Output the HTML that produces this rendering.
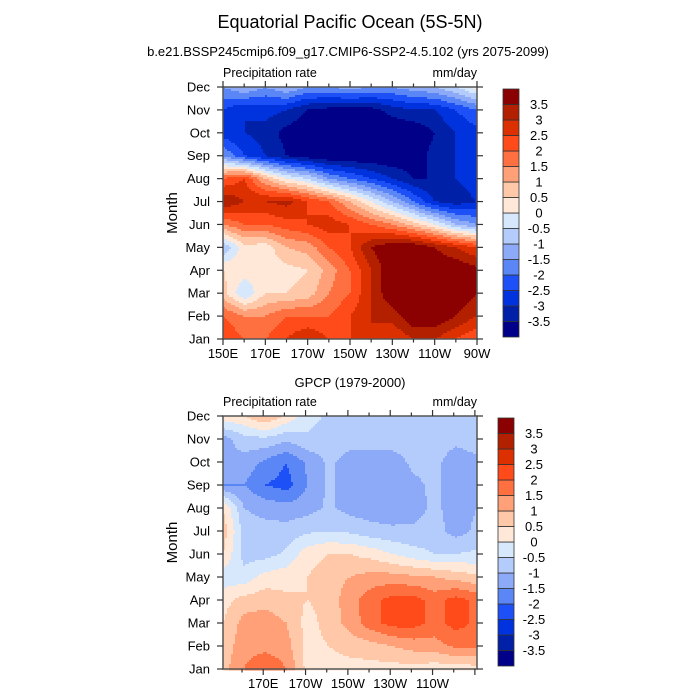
<!DOCTYPE html>
<html><head><meta charset="utf-8">
<style>
body{margin:0;background:#fff;}
svg{display:block;font-family:"Liberation Sans",sans-serif;}
</style></head>
<body>
<svg id="chart" width="700" height="700" viewBox="0 0 700 700">
<rect width="700" height="700" fill="#fff"/>
<text x="350" y="28" font-size="18" text-anchor="middle">Equatorial Pacific Ocean (5S-5N)</text>
<text x="348" y="56" font-size="13" text-anchor="middle">b.e21.BSSP245cmip6.f09_g17.CMIP6-SSP2-4.5.102 (yrs 2075-2099)</text>
<text x="350" y="387" font-size="13" text-anchor="middle">GPCP (1979-2000)</text>
<g id="top"></g>
<g id="bot"></g>
</svg>
<script>
const months = ["Jan","Feb","Mar","Apr","May","Jun","Jul","Aug","Sep","Oct","Nov","Dec"];
const lonsTop = [150,160,170,180,190,200,210,220,230,240,250,260,270];
const lonsBot = [151,161,171,181,191,201,211,221,231,241,251,261,271];
const xTicksTop = [150,170,190,210,230,250,270];
const xLabelsTop = ["150E","170E","170W","150W","130W","110W","90W"];
const xTicksBot = [170,190,210,230,250];
const xLabelsBot = ["170E","170W","150W","130W","110W"];
const levels = [-3.5,-3,-2.5,-2,-1.5,-1,-0.5,0,0.5,1,1.5,2,2.5,3,3.5];
const colors = ["#000088","#0020a8","#0033dd","#1e50f8","#5a87f5","#8caaf8","#b4ccfc","#d8e8fc","#ffe8d8","#ffc8a8","#ffa078","#ff7040","#ff4a1a","#dd3000","#b32000","#8b0000"];
const modelData = [
[2.5,2,2,2.5,3,2.5,2.5,3,2.5,3,3,2.5,2],
[2,1.5,1.5,2,2,2,2.5,3,3.2,4,4,3.5,3],
[0.7,-0.5,0.5,0.5,0.7,1.5,2,3,4,4,4,4,3.5],
[0.5,0.3,0.2,0.3,0.5,1.2,2,3,4,4,4,4,3.7],
[-1,0.3,0.2,1,1.2,2,2.5,3.5,4,4,3.5,3,2.5],
[1.5,2,2,2.3,2.5,2.8,2.5,2,1.5,0.8,0,-1,-1.5],
[3.5,3,3,3.2,2.5,2,1,0,-1,-2,-3,-3.3,-3],
[2,2.5,1,0,-0.5,-1.5,-2,-2.5,-3,-3.5,-3.5,-3,-2.7],
[-1.5,-2.5,-3,-3.5,-3.8,-4,-4,-4,-4,-3.8,-3.3,-3,-2.7],
[-2.8,-3,-3.2,-3.7,-4,-4,-4,-4,-4,-4,-3.5,-3,-2.7],
[-2.5,-3,-2.8,-3,-3.5,-3.7,-3.7,-3.7,-3.3,-3,-3,-2.5,-2],
[-1.5,-1,-1.5,-1,-1.5,-1.5,-1.3,-1.5,-1.5,-1.2,-1,-0.5,0.2]];
const obsData = [
[0.8,1.5,2,1.5,0.3,0.3,0.3,0.3,0.3,0.3,0.2,0.2,0.3],
[0.7,1.3,1.3,1.2,0.3,0.5,0.7,0.8,1,1.2,1.3,1.6,1.6],
[0.5,1.2,1.3,1,0.3,0.7,1.2,1.8,2.2,2.2,1.8,2.2,1.9],
[0.3,0.7,0.8,0.6,0.5,0.7,1.3,1.8,2.2,2.2,1.8,2.2,1.9],
[-0.3,-0.3,0.2,0.3,0.5,0.8,1,1.2,1.2,1.1,1,0.8,0.6],
[0.5,-0.7,-0.7,-0.4,0.3,0.5,0.5,0.3,0,-0.3,-0.5,-0.5,-0.4],
[0.8,-0.7,-0.8,-0.8,-0.6,-0.5,-0.6,-0.8,-0.9,-0.9,-0.8,-1.2,-0.9],
[0.5,-1,-1.2,-1.3,-1.2,-0.9,-1.2,-1.3,-1.3,-1.2,-0.9,-1.2,-1],
[-1.5,-1.5,-2,-2.2,-1.5,-0.9,-1.3,-1.4,-1.4,-1.1,-0.9,-1.2,-1.1],
[-1.2,-1.2,-1.6,-2,-1.4,-0.9,-1.2,-1.2,-1.2,-0.9,-0.9,-1.2,-1.1],
[-1.2,-0.7,-0.6,-0.9,-0.6,-0.7,-0.8,-0.8,-0.8,-0.8,-0.8,-0.9,-0.8],
[0.3,0.5,1,0.4,-0.3,-0.6,-0.6,-0.7,-0.7,-0.7,-0.7,-0.7,-0.7]];

const NS="http://www.w3.org/2000/svg";
function mk(tag,attrs,parent){const e=document.createElementNS(NS,tag);for(const k in attrs)e.setAttribute(k,attrs[k]);parent.appendChild(e);return e;}
function cls(v){let i=0;while(i<levels.length&&v>levels[i])i++;return i;}

function panel(g,cfg){
  const L=223,R=477,T=cfg.top,B=cfg.bottom;
  const lons=cfg.lons,data=cfg.data;
  const lon0=lons[0],lon1=lons[lons.length-1];
  const xs=lon=>L+(lon-lon0)/(lon1-lon0)*(R-L);
  const ys=m=>B-m/11*(B-T);
  const step=2;
  const field=mk('g',{},g);
  
  
  for(let py=T;py<B;py+=step){
    const m=Math.min(11,Math.max(0,(B-(py+step/2))/(B-T)*11));
    const mi=Math.min(10,Math.floor(m)),fm=m-mi;
    let runStart=L,runC=-1;
    for(let px=L;px<=R;px+=step){
      let c=-1;
      if(px<R){
        const f=Math.min(lons.length-1,Math.max(0,(px+step/2-L)/(R-L)*(lons.length-1)));
        const li=Math.min(lons.length-2,Math.floor(f)),fl=f-li;
        const v=(data[mi][li]*(1-fl)+data[mi][li+1]*fl)*(1-fm)+(data[mi+1][li]*(1-fl)+data[mi+1][li+1]*fl)*fm;
        c=cls(v);
      }
      if(c!==runC){
        if(runC>=0){
          const r=mk('rect',{x:runStart,y:py,width:Math.min(px,R)-runStart+0.5,height:step+0.5,fill:colors[runC]},field);
          
          
        }
        runStart=px;runC=c;
      }
    }
  }
  const frame=mk('rect',{x:L,y:T,width:R-L,height:B-T,fill:'none',stroke:'#555','stroke-width':1.5},g);
  
  
  months.forEach((mn,i)=>{
    const y=ys(i);
    mk('line',{x1:L-6,x2:L,y1:y,y2:y,stroke:'#333','stroke-width':1.2},g);
    mk('line',{x1:R,x2:R+6,y1:y,y2:y,stroke:'#333','stroke-width':1.2},g);
    const t=mk('text',{x:L-13,y:y+4.5,'font-size':13,'text-anchor':'end'},g);
    t.textContent=mn;
    
    
  });
  for(let lon=Math.ceil(lon0/10)*10;lon<=lon1+0.01;lon+=10){
    const x=xs(lon),major=cfg.xTicks.includes(lon)||(lon-150)%20===0;
    const len=major?6:3.5;
    mk('line',{x1:x,x2:x,y1:T-len,y2:T,stroke:'#333','stroke-width':1.2},g);
    mk('line',{x1:x,x2:x,y1:B,y2:B+len,stroke:'#333','stroke-width':1.2},g);
  }
  cfg.xTicks.forEach((lon,i)=>{
    const t=mk('text',{x:xs(lon),y:B+19,'font-size':13,'text-anchor':'middle'},g);
    t.textContent=cfg.xLabels[i];
    
    
  });
  const yt=mk('text',{x:0,y:0,'font-size':15,'text-anchor':'middle',transform:`translate(177,${(T+B)/2}) rotate(-90)`},g);
  yt.textContent='Month';
  
  
  const lt=mk('text',{x:L,y:T-10,'font-size':12.5},g);
  lt.textContent='Precipitation rate';
  
  
  const ut=mk('text',{x:R,y:T-10,'font-size':12.5,'text-anchor':'end'},g);
  ut.textContent='mm/day';
  
  
  const cb=mk('g',{},g);
  
  
  const cx=cfg.cbx,cT=cfg.cbt,cB=cfg.cbb,h=(cB-cT)/colors.length;
  colors.forEach((c,i)=>{
    const r=mk('rect',{x:cx,y:cB-(i+1)*h,width:16,height:h,fill:c,stroke:'#333','stroke-width':0.8},cb);
    
    
  });
  levels.forEach((lv,i)=>{
    const y=cB-(i+1)*h;
    const t=mk('text',{x:cx+36,y:y+4.5,'font-size':13,'text-anchor':'middle'},cb);
    t.textContent=String(lv);
    
    
  });
}
panel(document.getElementById('top'),{name:'model',top:87,bottom:339,lons:lonsTop,data:modelData,xTicks:xTicksTop,xLabels:xLabelsTop,cbx:503,cbt:89,cbb:337});
panel(document.getElementById('bot'),{name:'gpcp',top:416,bottom:669,lons:lonsBot,data:obsData,xTicks:xTicksBot,xLabels:xLabelsBot,cbx:498,cbt:418,cbb:666});
</script>
</body></html>
